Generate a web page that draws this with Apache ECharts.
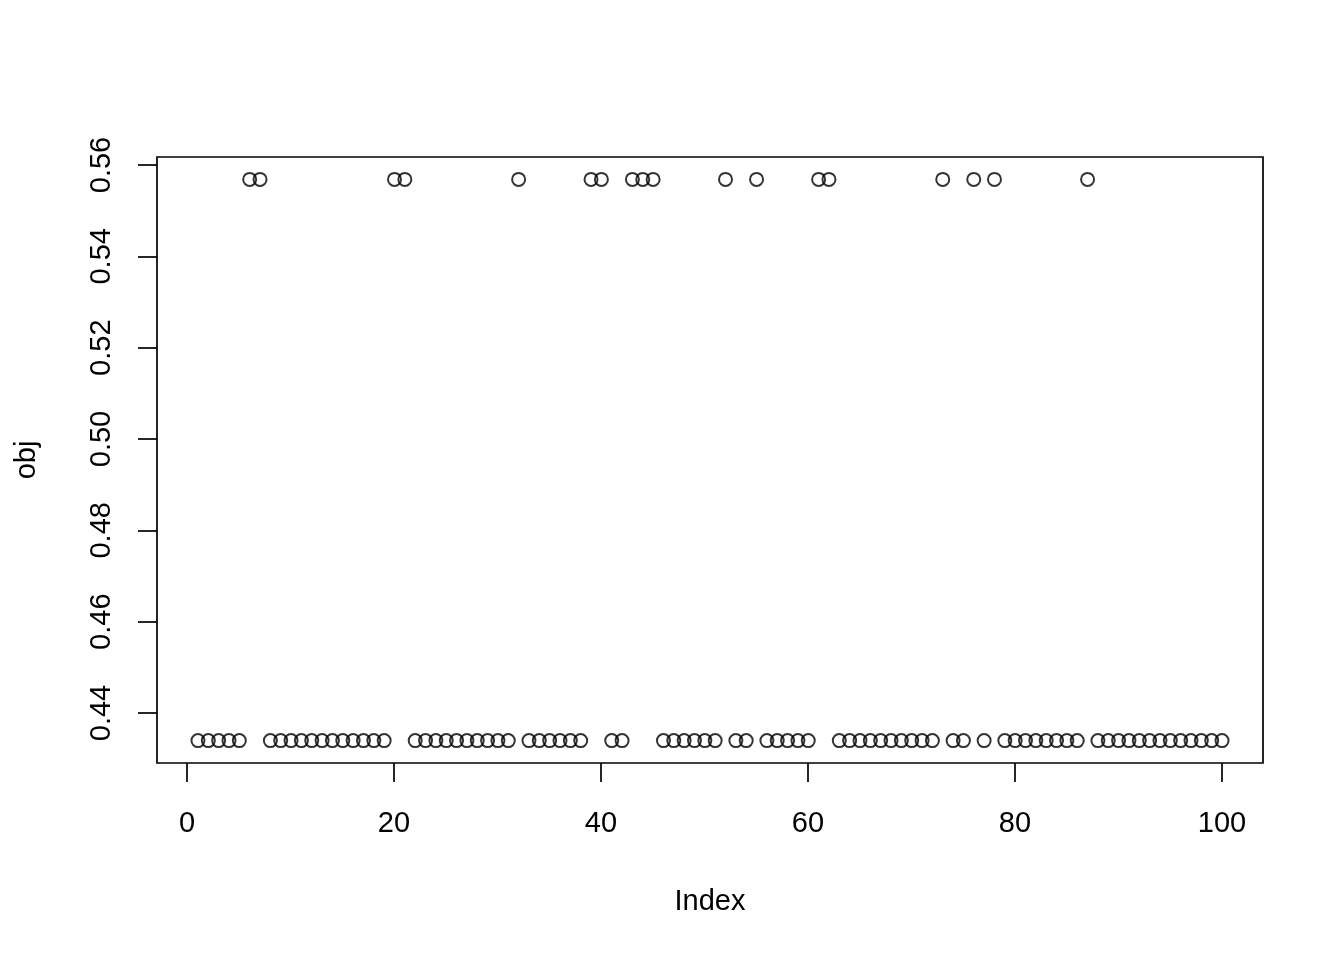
<!DOCTYPE html>
<html>
<head>
<meta charset="utf-8">
<script src="https://cdn.jsdelivr.net/npm/echarts@6/dist/echarts.min.js"></script>
<style>
  html, body { margin: 0; padding: 0; background: #fff; }
  #chart { width: 1344px; height: 960px; }
</style>
</head>
<body>
<div id="chart"></div>
<script>
// values (index 1..100)
var obj = [
  0.4339, 0.4339, 0.4339, 0.4339, 0.4339, 0.5567, 0.5567, 0.4339, 0.4339, 0.4339,
  0.4339, 0.4339, 0.4339, 0.4339, 0.4339, 0.4339, 0.4339, 0.4339, 0.4339, 0.5567,
  0.5567, 0.4339, 0.4339, 0.4339, 0.4339, 0.4339, 0.4339, 0.4339, 0.4339, 0.4339,
  0.4339, 0.5567, 0.4339, 0.4339, 0.4339, 0.4339, 0.4339, 0.4339, 0.5567, 0.5567,
  0.4339, 0.4339, 0.5567, 0.5567, 0.5567, 0.4339, 0.4339, 0.4339, 0.4339, 0.4339,
  0.4339, 0.5567, 0.4339, 0.4339, 0.5567, 0.4339, 0.4339, 0.4339, 0.4339, 0.4339,
  0.5567, 0.5567, 0.4339, 0.4339, 0.4339, 0.4339, 0.4339, 0.4339, 0.4339, 0.4339,
  0.4339, 0.4339, 0.5567, 0.4339, 0.4339, 0.5567, 0.4339, 0.5567, 0.4339, 0.4339,
  0.4339, 0.4339, 0.4339, 0.4339, 0.4339, 0.4339, 0.5567, 0.4339, 0.4339, 0.4339,
  0.4339, 0.4339, 0.4339, 0.4339, 0.4339, 0.4339, 0.4339, 0.4339, 0.4339, 0.4339
]
var index = obj.map(function (v, i) { return i + 1 })
var xTicks = { min: 0, max: 100, interval: 20 }
var yTicks = { min: 0.44, max: 0.56, interval: 0.02 }
var xName = 'Index'
var yName = 'obj'

var font = 'Liberation Sans, Arial, Helvetica, sans-serif'
var fs = 29
var line = { color: '#000', width: 1.7 }

var myChart = echarts.init(document.getElementById('chart'))
var option = {
  animation: false,
  grid: [
    // data region + box
    { left: 157, top: 157, width: 1106, height: 606, show: true, borderColor: '#000', borderWidth: 1.7, backgroundColor: 'transparent', containLabel: false, outerBoundsMode: 'none' },
    // x tick axis (0..100)
    { left: 187, top: 157, width: 1035, height: 606, containLabel: false, outerBoundsMode: 'none' },
    // y tick axis (0.44..0.56)
    { left: 157, top: 165, width: 1106, height: 548, containLabel: false, outerBoundsMode: 'none' }
  ],
  xAxis: [
    {
      gridIndex: 0, type: 'value', min: -2.96, max: 103.96,
      name: xName, nameLocation: 'middle', nameGap: 124,
      nameTextStyle: { fontFamily: font, fontSize: fs, color: '#000' },
      axisLine: { show: false }, axisTick: { show: false }, axisLabel: { show: false }, splitLine: { show: false }
    },
    {
      gridIndex: 1, type: 'value', min: xTicks.min, max: xTicks.max, interval: xTicks.interval, position: 'bottom',
      axisLine: { show: false },
      axisTick: { show: true, inside: false, length: 19, lineStyle: line },
      axisLabel: { show: true, margin: 46, fontFamily: font, fontSize: fs, color: '#000' },
      splitLine: { show: false }
    },
    {
      gridIndex: 2, type: 'value', min: 0, max: 1, show: false
    }
  ],
  yAxis: [
    {
      gridIndex: 0, type: 'value', min: 0.4290, max: 0.5616,
      name: yName, nameLocation: 'middle', nameGap: 116, nameRotate: 90,
      nameTextStyle: { fontFamily: font, fontSize: fs, color: '#000' },
      axisLine: { show: false }, axisTick: { show: false }, axisLabel: { show: false }, splitLine: { show: false }
    },
    {
      gridIndex: 1, type: 'value', min: 0, max: 1, show: false
    },
    {
      gridIndex: 2, type: 'value', min: yTicks.min, max: yTicks.max, interval: yTicks.interval, position: 'left',
      axisLine: { show: false },
      axisTick: { show: true, inside: false, length: 19, lineStyle: line },
      axisLabel: {
        show: true, rotate: 90, margin: 41, fontFamily: font, fontSize: fs, color: '#000',
        formatter: function (v) { return v.toFixed(2) }
      },
      splitLine: { show: false }
    }
  ],
  series: [
    {
      type: 'scatter',
      xAxisIndex: 0,
      yAxisIndex: 0,
      symbol: 'circle',
      symbolSize: 13,
      itemStyle: { color: 'rgba(0,0,0,0)', borderColor: '#000', borderWidth: 2 },
      emphasis: { disabled: true },
      data: index.map(function (x, i) { return [x, obj[i]] })
    }
  ]
}
myChart.setOption(option)
</script>
</body>
</html>
